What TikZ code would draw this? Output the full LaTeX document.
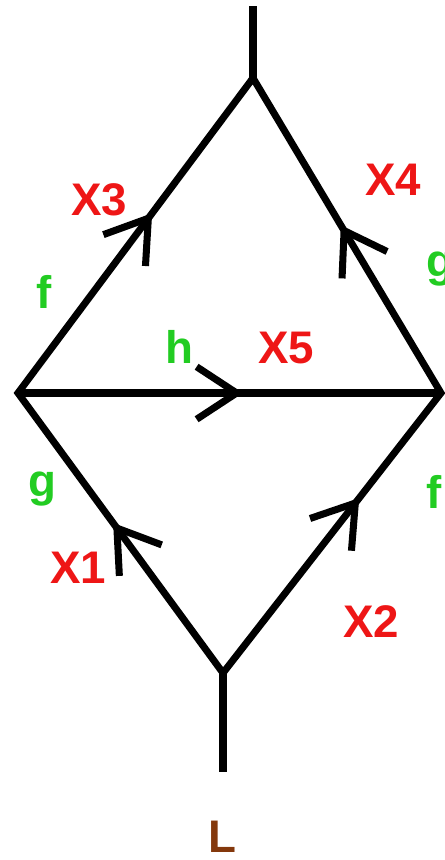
\documentclass[tikz,border=0pt]{standalone}
\usepackage{fontspec}
\setmainfont{Liberation Sans}
\usetikzlibrary{arrows.meta,decorations.markings}
\definecolor{lblred}{RGB}{238,22,22}
\definecolor{lblgreen}{RGB}{34,204,34}
\definecolor{lblbrown}{RGB}{132,56,12}
\begin{document}
\begin{tikzpicture}[x=0.02cm, y=-0.02cm, line width=4pt,
    barb/.style={decoration={markings, mark=at position #1 with {\arrow{Straight Barb[length=0.8cm,width=1.05cm]}}}, postaction={decorate}},
    lbl/.style={anchor=base west, inner sep=0pt, font=\fontsize{26}{30}\selectfont\bfseries},
    xname/.style={lbl, text=lblred},
    gname/.style={lbl, text=lblgreen}]
    \useasboundingbox (0,0) rectangle (444,860);
    % vertices
    \coordinate (topend) at (253,6);
    \coordinate (top) at (253,78);
    \coordinate (left) at (18,393);
    \coordinate (right) at (441,393);
    \coordinate (bot) at (223,673);
    \coordinate (botend) at (223,772);
    % lines
    \draw (left) -- (top) -- (right) -- (bot) -- cycle;
    \draw (top) -- (topend);
    \draw (bot) -- (botend);
    \draw (left) -- (right);
    % arrows
    \path[barb=0.571] (left) -- (top);
    \path[barb=0.533] (right) -- (top);
    \path[barb=0.532] (left) -- (right);
    \path[barb=0.536] (bot) -- (left);
    \path[barb=0.625] (bot) -- (right);
    % labels
    \node[xname] (x3) at (68,215) {X3};
    \node[xname] (x4) at (362,195) {X4};
    \node[xname] (x5) at (255,363) {X5};
    \node[xname] (x1) at (47,583) {X1};
    \node[xname] (x2) at (340,637) {X2};
    \node[gname] (fup) at (33,308) {f};
    \node[gname] (gup) at (423,276) {g};
    \node[gname] (hmid) at (162,363) {h};
    \node[gname] (glow) at (25,496) {g};
    \node[gname] (flow) at (423,508) {f};
    \node[lbl, text=lblbrown] (lname) at (205,852) {L};
\end{tikzpicture}
\end{document}
